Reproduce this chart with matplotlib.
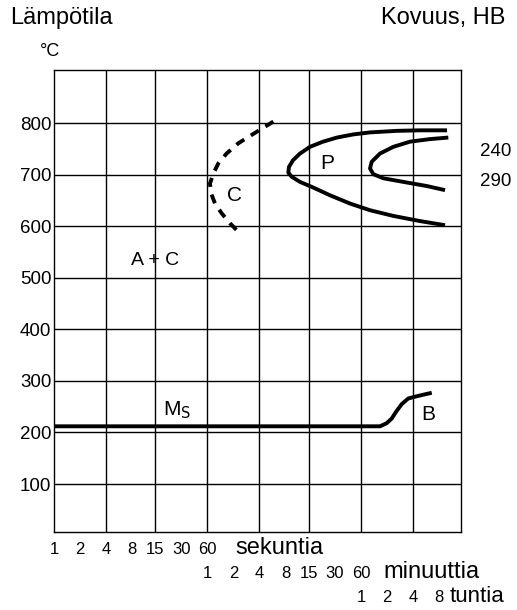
import matplotlib.pyplot as plt
from matplotlib.transforms import blended_transform_factory

plt.rcParams['font.family'] = ['Liberation Sans', 'DejaVu Sans']

# grid (time in seconds, temperature in C)
grid_times = [4, 15, 60, 240, 900, 3600, 14400]
grid_temps = [100, 200, 300, 400, 500, 600, 700, 800]

# time axis labels
sec_labels = [1, 2, 4, 8, 15, 30, 60]
min_labels = [1, 2, 4, 8, 15, 30, 60]
hour_labels = [1, 2, 4, 8]

# Ms line + bainite start
ms_t = [1, 5995, 7160, 8190, 9180, 10690, 12750, 16630, 23820]
ms_T = [212, 212, 218, 227, 240, 255, 266, 271, 277]

# carbide precipitation (dashed)
c_t = [348, 213, 137, 100, 80.2, 70.2, 64.2, 66, 73.4, 87.8, 109, 143]
c_T = [803, 781, 761, 741, 722, 702, 683, 664, 644, 625, 606, 586]

# pearlite start
p1_t = [35800, 17420, 9440, 4590, 2917, 1901, 1309, 925, 709, 588, 528, 519,
        568, 709, 1011, 1578, 2692, 4590, 8550, 17420, 33950]
p1_T = [786, 786, 785, 782, 778, 772, 764, 754, 741, 728, 715, 704,
        696, 686, 675, 660, 644, 631, 620, 610, 602]

# pearlite finish
p2_t = [37070, 22750, 13340, 8550, 5995, 4800, 4590, 5013, 6540, 11160, 20830, 33950]
p2_T = [772, 769, 764, 754, 741, 725, 712, 701, 693, 686, 678, 670]

hardness = ["240", "290"]
hardness_T = [744, 687]

fig = plt.figure(figsize=(5.17, 6.10), dpi=100)
W, H = 517, 610
ax = fig.add_axes([54 / W, 1 - 532 / H, (461 - 54) / W, (532 - 70) / H])
ax.set_xscale('log')
ax.set_xlim(1, 52000)
ax.set_ylim(7, 903)

for t in grid_times:
    ax.axvline(t, color='black', lw=1.0)
for T in grid_temps:
    ax.axhline(T, color='black', lw=1.0)
for s in ax.spines.values():
    s.set_linewidth(1.0)

ax.set_xticks([])
ax.set_xticks([], minor=True)
ax.set_yticks(grid_temps)
ax.set_yticklabels([str(v) for v in grid_temps], fontsize=13.5)
ax.tick_params(axis='y', length=0, pad=2)

line_kw = dict(color='black', lw=2.8, solid_capstyle='butt', solid_joinstyle='round')
ax.plot(ms_t, ms_T, **line_kw)
ax.plot(c_t, c_T, color='black', lw=2.8, dashes=(2.4, 2.0))
ax.plot(p1_t, p1_T, **line_kw)
ax.plot(p2_t, p2_T, **line_kw)

ax.text(27, 243, r'M$_\mathrm{S}$', fontsize=15, ha='center', va='center')
ax.text(21500, 234, 'B', fontsize=15, ha='center', va='center')
ax.text(1456, 722, 'P', fontsize=15, ha='center', va='center')
ax.text(122, 660, 'C', fontsize=15, ha='center', va='center')
ax.text(14.8, 534, 'A + C', fontsize=14, ha='center', va='center')

tr = blended_transform_factory(ax.transAxes, ax.transData)
for lab, T in zip(hardness, hardness_T):
    ax.text(1.047, T, lab, transform=tr, fontsize=13.5, ha='left', va='center', clip_on=False)

bt = blended_transform_factory(ax.transData, fig.transFigure)
for v in sec_labels:
    ax.text(v, 1 - 550 / H, str(v), transform=bt, fontsize=12, ha='center', va='center')
ax.text(125, 1 - 548 / H, 'sekuntia', transform=bt, fontsize=17, ha='left', va='center')
for v in min_labels:
    ax.text(v * 60, 1 - 574 / H, str(v), transform=bt, fontsize=12, ha='center', va='center')
ax.text(6490, 1 - 572 / H, 'minuuttia', transform=bt, fontsize=17, ha='left', va='center')
for v in hour_labels:
    ax.text(v * 3600, 1 - 598 / H, str(v), transform=bt, fontsize=12, ha='center', va='center')
ax.text(38500, 1 - 596 / H, 'tuntia', transform=bt, fontsize=16, ha='left', va='center')

fig.text(10 / W, 1 - 18 / H, 'Lämpötila', fontsize=17, ha='left', va='center')
fig.text(40 / W, 1 - 51 / H, '°C', fontsize=13, ha='left', va='center')
fig.text(505 / W, 1 - 18 / H, 'Kovuus, HB', fontsize=17, ha='right', va='center')

fig.savefig('out.png', dpi=100)
